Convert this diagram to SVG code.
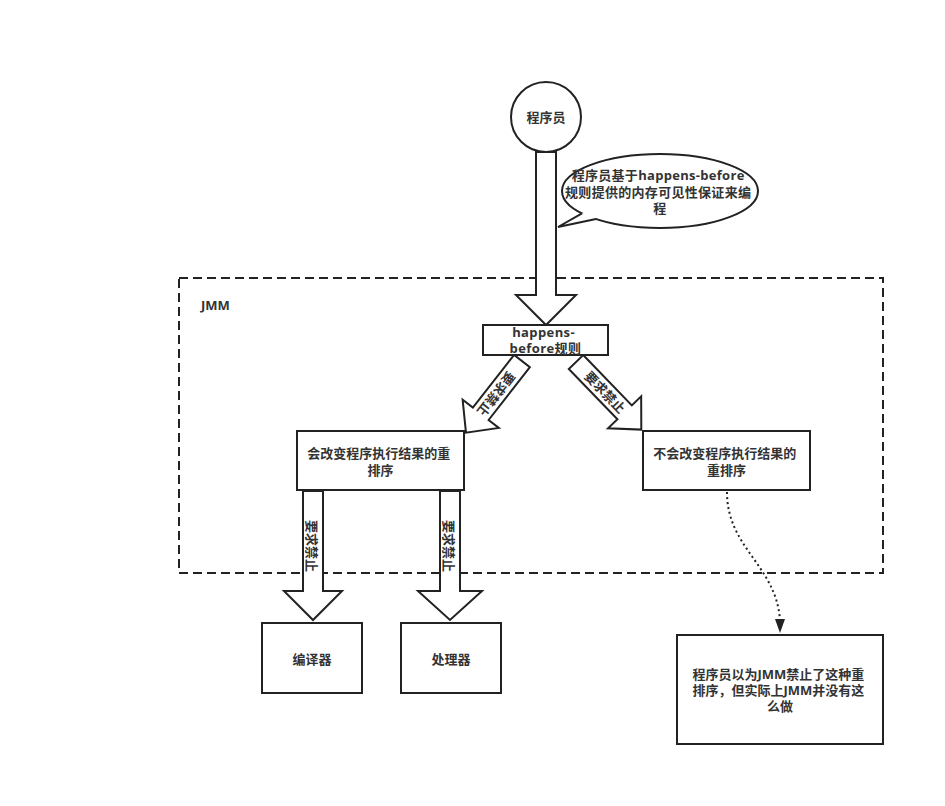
<svg xmlns="http://www.w3.org/2000/svg" width="945" height="806" viewBox="0 0 945 806">
  <style>
    .shape { fill: #ffffff; stroke: #222222; stroke-width: 2; }
    .label { font-family: "Open Sans", "Noto Sans CJK SC", sans-serif; font-size: 13px; font-weight: bold; fill: #333333; text-anchor: middle; dominant-baseline: central; }
    .frame { fill: none; stroke: #222222; stroke-width: 2; stroke-dasharray: 9 5; }
    .dots { fill: none; stroke: #222222; stroke-width: 2; stroke-dasharray: 2 3; }
  </style>
  <rect width="945" height="806" fill="#ffffff"/>

  <!-- JMM boundary -->
  <g id="jmm">
    <rect class="frame" x="179" y="278" width="704" height="295"/>
    <text class="label" x="201" y="305" style="text-anchor:start">JMM</text>
  </g>

  <!-- programmer node -->
  <g id="programmer">
    <circle class="shape" cx="546" cy="117" r="35"/>
    <text class="label" x="546" y="117">程序员</text>
  </g>

  <!-- callout bubble -->
  <g id="callout">
    <ellipse class="shape" cx="660" cy="191" rx="98" ry="37"/>
    <polygon points="582,213.4 558,227 596,219 594,210" fill="#ffffff"/>
    <polyline points="582,213.4 558,227 596,219" fill="none" stroke="#222222" stroke-width="2"/>
    <text class="label" style="letter-spacing:0.3px">
      <tspan x="660" y="175">程序员基于happens-before</tspan>
      <tspan x="660" y="192">规则提供的内存可见性保证来编</tspan>
      <tspan x="660" y="208">程</tspan>
    </text>
  </g>

  <!-- connectors (block arrows and dotted link) -->
  <g id="connectors">
    <!-- programmer -> happens-before -->
    <g transform="translate(546,152) rotate(90)">
      <polygon class="shape" points="0,-10 143,-10 143,-30 173,0 143,30 143,10 0,10"/>
    </g>
    <!-- happens-before -> reordering that changes results -->
    <g transform="translate(522,361) rotate(128)">
      <polygon class="shape" points="0,-10 67,-10 67,-23 91,0 67,23 67,10 0,10"/>
      <text class="label" x="42" y="0">要求禁止</text>
    </g>
    <!-- happens-before -> reordering that keeps results -->
    <g transform="translate(576,362) rotate(46)">
      <polygon class="shape" points="0,-10 70,-10 70,-23 94,0 70,23 70,10 0,10"/>
      <text class="label" x="42" y="0">要求禁止</text>
    </g>
    <!-- -> compiler -->
    <g transform="translate(313,491) rotate(90)">
      <polygon class="shape" points="0,-10 100,-10 100,-29 129,0 100,29 100,10 0,10"/>
      <text class="label" x="55" y="1">要求禁止</text>
    </g>
    <!-- -> processor -->
    <g transform="translate(450,491) rotate(90)">
      <polygon class="shape" points="0,-10 100,-10 100,-32 129,0 100,32 100,10 0,10"/>
      <text class="label" x="55" y="1">要求禁止</text>
    </g>
    <!-- dotted link to the note -->
    <path class="dots" d="M727,492 C727,548 776,565 780,620"/>
    <polygon points="775,619 785,619 780,633" fill="#222222"/>
  </g>

  <!-- happens-before rule -->
  <g id="hb">
    <rect class="shape" x="483" y="325" width="125" height="30"/>
    <text class="label" style="letter-spacing:0.4px">
      <tspan x="545.5" y="332">happens-</tspan>
      <tspan x="545.5" y="348">before规则</tspan>
    </text>
  </g>

  <!-- reordering that changes results -->
  <g id="changing">
    <rect class="shape" x="297" y="431" width="167" height="59"/>
    <text class="label">
      <tspan x="380.5" y="453">会改变程序执行结果的重</tspan>
      <tspan x="380.5" y="470">排序</tspan>
    </text>
  </g>

  <!-- reordering that keeps results -->
  <g id="keeping">
    <rect class="shape" x="643" y="431" width="167" height="59"/>
    <text class="label">
      <tspan x="726.5" y="453">不会改变程序执行结果的</tspan>
      <tspan x="726.5" y="470">重排序</tspan>
    </text>
  </g>

  <!-- compiler -->
  <g id="compiler">
    <rect class="shape" x="262" y="623" width="100" height="70"/>
    <text class="label" x="312" y="659">编译器</text>
  </g>

  <!-- processor -->
  <g id="processor">
    <rect class="shape" x="401" y="623" width="100" height="70"/>
    <text class="label" x="451" y="659">处理器</text>
  </g>

  <!-- note -->
  <g id="note">
    <rect class="shape" x="677" y="635" width="206" height="109"/>
    <text class="label">
      <tspan x="780" y="674">程序员以为JMM禁止了这种重</tspan>
      <tspan x="780" y="690">排序，但实际上JMM并没有这</tspan>
      <tspan x="780" y="706">么做</tspan>
    </text>
  </g>
</svg>
